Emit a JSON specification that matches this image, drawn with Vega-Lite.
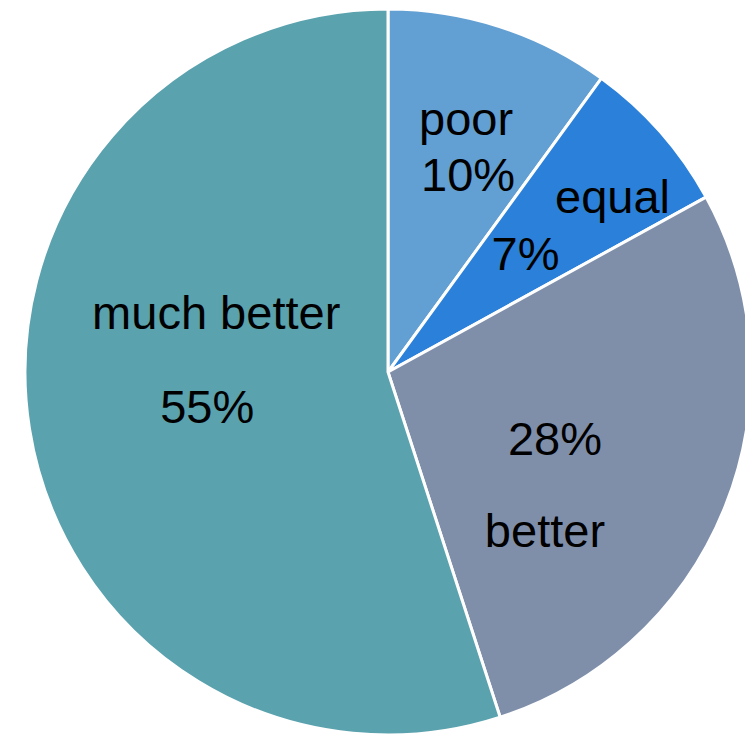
{
  "$schema": "https://vega.github.io/schema/vega-lite/v6.json",
  "width": 714,
  "height": 728,
  "autosize": {"type": "none"},
  "padding": {"left": 31, "top": 8, "right": 0, "bottom": 0},
  "background": "white",
  "config": {"view": {"stroke": null}},
  "data": {
    "values": [
      {"cat": "poor", "value": 0.10},
      {"cat": "equal", "value": 0.07},
      {"cat": "better", "value": 0.28},
      {"cat": "much better", "value": 0.55}
    ]
  },
  "transform": [
    {"window": [{"op": "row_number", "as": "idx"}]}
  ],
  "encoding": {
    "theta": {"field": "value", "type": "quantitative", "stack": true},
    "order": {"field": "idx", "type": "quantitative"}
  },
  "layer": [
    {
      "mark": {"type": "arc", "radius": 363, "stroke": "white", "strokeWidth": 3},
      "encoding": {
        "color": {
          "condition": [
            {"test": "datum.cat === 'poor'", "value": "#629fd3"},
            {"test": "datum.cat === 'equal'", "value": "#2b80d9"},
            {"test": "datum.cat === 'better'", "value": "#7f8faa"}
          ],
          "value": "#5aa2ae"
        }
      }
    },
    {
      "mark": {"type": "text", "radius": 230, "dx": 7, "dy": -18, "fontSize": 47, "font": "Liberation Sans", "baseline": "alphabetic", "align": "center", "color": "black"},
      "encoding": {"text": {"condition": {"test": "datum.cat === 'poor'", "field": "cat", "type": "nominal"}, "value": ""}}
    },
    {
      "mark": {"type": "text", "radius": 230, "dx": 9, "dy": 38, "fontSize": 47, "font": "Liberation Sans", "baseline": "alphabetic", "align": "center", "color": "black"},
      "encoding": {"text": {"condition": {"test": "datum.cat === 'poor'", "field": "value", "type": "quantitative", "format": ".0%"}, "value": ""}}
    },
    {
      "mark": {"type": "text", "radius": 230, "dx": 52, "dy": -7, "fontSize": 47, "font": "Liberation Sans", "baseline": "alphabetic", "align": "center", "color": "black"},
      "encoding": {"text": {"condition": {"test": "datum.cat === 'equal'", "field": "cat", "type": "nominal"}, "value": ""}}
    },
    {
      "mark": {"type": "text", "radius": 230, "dx": -35, "dy": 50, "fontSize": 47, "font": "Liberation Sans", "baseline": "alphabetic", "align": "center", "color": "black"},
      "encoding": {"text": {"condition": {"test": "datum.cat === 'equal'", "field": "value", "type": "quantitative", "format": ".0%"}, "value": ""}}
    },
    {
      "mark": {"type": "text", "radius": 200, "dx": -19, "dy": 9, "fontSize": 47, "font": "Liberation Sans", "baseline": "alphabetic", "align": "center", "color": "black"},
      "encoding": {"text": {"condition": {"test": "datum.cat === 'better'", "field": "value", "type": "quantitative", "format": ".0%"}, "value": ""}}
    },
    {
      "mark": {"type": "text", "radius": 200, "dx": -29, "dy": 101, "fontSize": 47, "font": "Liberation Sans", "baseline": "alphabetic", "align": "center", "color": "black"},
      "encoding": {"text": {"condition": {"test": "datum.cat === 'better'", "field": "cat", "type": "nominal"}, "value": ""}}
    },
    {
      "mark": {"type": "text", "radius": 180, "dx": 6, "dy": -71, "fontSize": 47, "font": "Liberation Sans", "baseline": "alphabetic", "align": "center", "color": "black"},
      "encoding": {"text": {"condition": {"test": "datum.cat === 'much better'", "field": "cat", "type": "nominal"}, "value": ""}}
    },
    {
      "mark": {"type": "text", "radius": 180, "dx": -3, "dy": 23, "fontSize": 47, "font": "Liberation Sans", "baseline": "alphabetic", "align": "center", "color": "black"},
      "encoding": {"text": {"condition": {"test": "datum.cat === 'much better'", "field": "value", "type": "quantitative", "format": ".0%"}, "value": ""}}
    }
  ]
}
